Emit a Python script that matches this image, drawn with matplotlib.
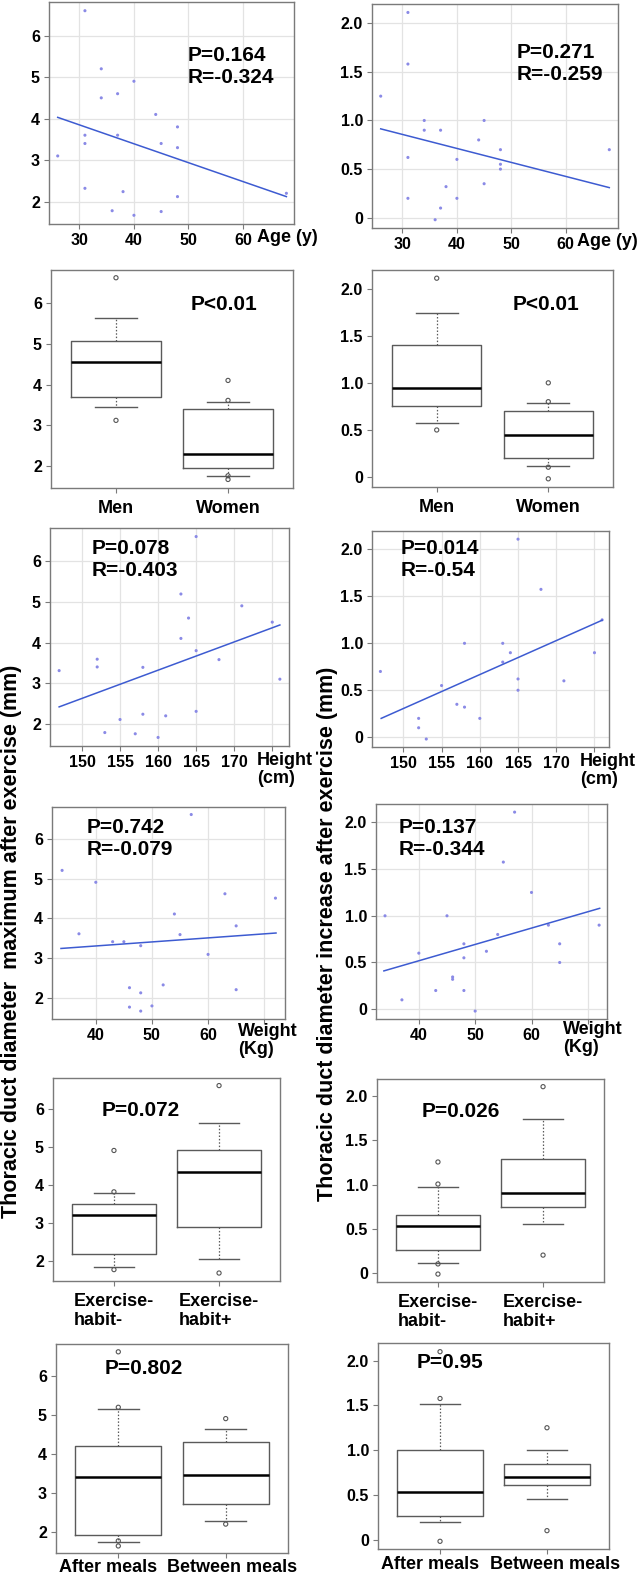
import matplotlib
matplotlib.use("Agg")
import matplotlib.pyplot as plt
import matplotlib.transforms as mtransforms

plt.rcParams['font.family'] = ['Liberation Sans', 'DejaVu Sans']
plt.rcParams['font.weight'] = 'bold'

# ---------------- data ----------------
age_max_x = [31, 34, 40, 37, 34, 44, 48, 31, 37, 31, 45, 48, 26, 31, 38, 48, 68, 36, 40, 45]
age_max_y = [6.6, 5.2, 4.9, 4.6, 4.5, 4.1, 3.8, 3.6, 3.6, 3.4, 3.4, 3.3, 3.1, 2.32, 2.24, 2.12, 2.2, 1.78, 1.67, 1.76]
age_max_fit_x = [26, 68]
age_max_fit_y = [4.03, 2.12]

age_inc_x = [31, 31, 26, 34, 45, 34, 37, 44, 48, 68, 31, 40, 48, 48, 45, 38, 31, 40, 37, 36]
age_inc_y = [2.11, 1.58, 1.25, 1.0, 1.0, 0.9, 0.9, 0.8, 0.7, 0.7, 0.62, 0.6, 0.55, 0.5, 0.35, 0.32, 0.2, 0.2, 0.1, -0.02]
age_inc_fit_x = [26, 68]
age_inc_fit_y = [0.914, 0.31]

height_max_x = [165, 163, 171, 164, 175, 163, 165, 152, 168, 152, 158, 147, 176, 165, 158, 161, 155, 153, 157, 160]
height_max_y = [6.6, 5.19, 4.9, 4.6, 4.5, 4.1, 3.8, 3.59, 3.58, 3.4, 3.39, 3.31, 3.1, 2.31, 2.24, 2.2, 2.11, 1.79, 1.76, 1.67]
height_max_fit_x = [147, 176]
height_max_fit_y = [2.42, 4.43]

height_inc_x = [165, 168, 176, 158, 163, 164, 175, 163, 147, 165, 171, 155, 165, 157, 158, 152, 160, 152, 153]
height_inc_y = [2.11, 1.575, 1.25, 1.0, 1.0, 0.9, 0.9, 0.8, 0.7, 0.62, 0.6, 0.55, 0.5, 0.35, 0.32, 0.2, 0.2, 0.1, -0.02]
height_inc_fit_x = [147.1, 176]
height_inc_fit_y = [0.20, 1.246]

weight_max_x = [57, 34, 40, 63, 72, 54, 65, 37, 55, 43, 45, 48, 60, 52, 46, 65, 48, 50, 46, 48]
weight_max_y = [6.62, 5.21, 4.91, 4.62, 4.51, 4.11, 3.81, 3.61, 3.59, 3.41, 3.41, 3.31, 3.09, 2.32, 2.25, 2.2, 2.12, 1.79, 1.76, 1.66]
weight_max_fit_x = [33.8, 72.1]
weight_max_fit_y = [3.24, 3.63]

weight_inc_x = [57, 55, 60, 34, 45, 63, 72, 54, 48, 65, 52, 40, 48, 65, 46, 46, 43, 48, 37, 50]
weight_inc_y = [2.11, 1.575, 1.25, 1.0, 1.0, 0.9, 0.9, 0.8, 0.7, 0.7, 0.62, 0.6, 0.55, 0.5, 0.345, 0.32, 0.2, 0.2, 0.1, -0.02]
weight_inc_fit_x = [33.8, 72.1]
weight_inc_fit_y = [0.41, 1.08]

# box stats: [q1, median, q3, whisker low, whisker high]
sex_labels = ['Men', 'Women']
sex_max_stats = [[3.70, 4.56, 5.06, 3.44, 5.63], [1.96, 2.29, 3.40, 1.76, 3.58]]
sex_max_out = [[6.62, 3.12], [4.10, 3.61, 1.76, 1.67]]
sex_inc_stats = [[0.75, 0.95, 1.405, 0.57, 1.74], [0.20, 0.45, 0.70, 0.113, 0.79]]
sex_inc_out = [[2.11, 0.50], [1.0, 0.80, 0.105, -0.018]]

ex_labels = ['Exercise-\nhabit-', 'Exercise-\nhabit+']
ex_max_stats = [[2.18, 3.21, 3.50, 1.82, 3.79], [2.89, 4.32, 4.90, 2.05, 5.62]]
ex_max_out = [[4.90, 3.81, 1.76], [6.61, 1.67]]
ex_inc_stats = [[0.258, 0.527, 0.66, 0.114, 0.968], [0.748, 0.90, 1.287, 0.55, 1.742]]
ex_inc_out = [[1.256, 1.006, 0.10, -0.015], [2.11, 0.20]]

meal_labels = ['After meals', 'Between meals']
meal_max_stats = [[1.93, 3.40, 4.21, 1.75, 5.14], [2.71, 3.46, 4.30, 2.28, 4.63]]
meal_max_out = [[6.61, 5.19, 1.77, 1.64], [4.90, 2.20]]
meal_inc_stats = [[0.263, 0.527, 1.0, 0.20, 1.52], [0.612, 0.70, 0.846, 0.449, 1.0]]
meal_inc_out = [[2.10, 1.577, -0.019], [1.25, 0.10]]

max_yticks = [2, 3, 4, 5, 6]
max_yticklabels = ['2', '3', '4', '5', '6']
inc_yticks = [0, 0.5, 1.0, 1.5, 2.0]
inc_yticklabels = ['0', '0.5', '1.0', '1.5', '2.0']

age_xticks = [30, 40, 50, 60]
age_xticklabels = ['30', '40', '50', '60']
height_xticks = [150, 155, 160, 165, 170, 175]
height_xticklabels = ['150', '155', '160', '165', '170', '']
weight_xticks = [40, 50, 60, 70]
weight_xticklabels = ['40', '50', '60', '']

# ---------------- figure ----------------
W, H = 641, 1577
fig = plt.figure(figsize=(W / 100, H / 100), dpi=100)
fig.patch.set_facecolor('white')

SPINE = '#7a7a7a'
TICKFS = 11.5
PFS = 15
LABFS = 13


def add_ax(l, t, r, b):
    return fig.add_axes([l / W, 1 - b / H, (r - l) / W, (b - t) / H])


def ftext(x, y, s, **kw):
    return fig.text(x / W, 1 - y / H, s, **kw)


def style(ax, yticks, yticklabels, ylim):
    for sp in ax.spines.values():
        sp.set_color(SPINE)
        sp.set_linewidth(1.0)
    ax.set_ylim(*ylim)
    ax.set_yticks(yticks)
    ax.set_yticklabels(yticklabels, fontsize=TICKFS, fontweight='bold')
    ax.tick_params(axis='both', direction='out', length=3.5, width=0.8,
                   color=SPINE, pad=3)


def scatter_panel(box, x, y, fx, fy, xlim, xticks, xticklabels, yticks, yticklabels, ylim):
    ax = add_ax(*box)
    style(ax, yticks, yticklabels, ylim)
    ax.set_xlim(*xlim)
    ax.set_xticks(xticks)
    ax.set_xticklabels(xticklabels, fontsize=TICKFS, fontweight='bold')
    ax.grid(True, color='#e3e3e3', lw=0.9)
    ax.set_axisbelow(True)
    ax.scatter(x, y, s=5, color='#8a8ae6', edgecolors='none', zorder=3)
    ax.plot(fx, fy, color='#3d5bd1', lw=1.1, zorder=4)
    return ax


def box_panel(box, stats, outs, labels, yticks, yticklabels, ylim,
              xpad=5, label_shift=(0, 0)):
    ax = add_ax(*box)
    style(ax, yticks, yticklabels, ylim)
    bst = []
    for s, lab in zip(stats, labels):
        bst.append(dict(q1=s[0], med=s[1], q3=s[2], whislo=s[3], whishi=s[4],
                        fliers=[], label=lab))
    ax.bxp(bst, positions=[1, 2], widths=0.8, showfliers=False,
           boxprops=dict(color='#5a5a5a', lw=1.0),
           medianprops=dict(color='black', lw=1.8),
           whiskerprops=dict(color='#5a5a5a', lw=0.9, ls=(0, (1.2, 1.5))),
           capprops=dict(color='#5a5a5a', lw=1.0),
           capwidths=0.38)
    for pos, o in zip([1, 2], outs):
        ax.scatter([pos] * len(o), o, s=9, facecolors='none',
                   edgecolors='#555555', linewidths=0.8, zorder=3)
    ax.set_xlim(0.42, 2.58)
    ax.set_xticks([1, 2])
    ax.set_xticklabels(labels, fontsize=LABFS, fontweight='bold')
    ax.tick_params(axis='x', pad=xpad)
    for t, dx in zip(ax.get_xticklabels(), label_shift):
        t.set_multialignment('left')
        if dx:
            off = mtransforms.ScaledTranslation(dx / 100, 0, fig.dpi_scale_trans)
            t.set_transform(t.get_transform() + off)
    return ax


MAXLIM = (1.46, 6.81)
INCLIM = (-0.105, 2.197)

# Row 1: age
scatter_panel((49, 2, 294, 224), age_max_x, age_max_y, age_max_fit_x, age_max_fit_y,
              (24.4, 69.4), age_xticks, age_xticklabels, max_yticks, max_yticklabels, MAXLIM)
scatter_panel((372, 4, 618, 228), age_inc_x, age_inc_y, age_inc_fit_x, age_inc_fit_y,
              (24.4, 69.6), age_xticks, age_xticklabels, inc_yticks, inc_yticklabels, INCLIM)
ftext(188, 46, 'P=0.164\nR=-0.324', fontsize=PFS, fontweight='bold', va='top', ha='left')
ftext(517, 43, 'P=0.271\nR=-0.259', fontsize=PFS, fontweight='bold', va='top', ha='left')
ftext(257, 238, 'Age (y)', fontsize=LABFS, fontweight='bold', va='center', ha='left')
ftext(577, 241, 'Age (y)', fontsize=LABFS, fontweight='bold', va='center', ha='left')

# Row 2: sex
box_panel((51, 270, 293, 488), sex_max_stats, sex_max_out, sex_labels,
          max_yticks, max_yticklabels, MAXLIM)
box_panel((372, 270, 613, 487), sex_inc_stats, sex_inc_out, sex_labels,
          inc_yticks, inc_yticklabels, INCLIM)
ftext(191, 295, 'P<0.01', fontsize=PFS, fontweight='bold', va='top', ha='left')
ftext(513, 295, 'P<0.01', fontsize=PFS, fontweight='bold', va='top', ha='left')

# Row 3: height
scatter_panel((50, 528, 289, 746), height_max_x, height_max_y, height_max_fit_x, height_max_fit_y,
              (145.8, 177.2), height_xticks, height_xticklabels, max_yticks, max_yticklabels, MAXLIM)
scatter_panel((372, 531, 609, 747), height_inc_x, height_inc_y, height_inc_fit_x, height_inc_fit_y,
              (145.9, 176.9), height_xticks, height_xticklabels, inc_yticks, inc_yticklabels, INCLIM)
ftext(92, 539, 'P=0.078\nR=-0.403', fontsize=PFS, fontweight='bold', va='top', ha='left')
ftext(401, 539, 'P=0.014\nR=-0.54', fontsize=PFS, fontweight='bold', va='top', ha='left')
ftext(257, 752, 'Height\n(cm)', fontsize=LABFS, fontweight='bold', va='top', ha='left',
      linespacing=1.05)
ftext(580, 753, 'Height\n(cm)', fontsize=LABFS, fontweight='bold', va='top', ha='left',
      linespacing=1.05)

# Row 4: weight
scatter_panel((52, 807, 285, 1019), weight_max_x, weight_max_y, weight_max_fit_x, weight_max_fit_y,
              (32.2, 73.7), weight_xticks, weight_xticklabels, max_yticks, max_yticklabels, MAXLIM)
scatter_panel((376, 804, 607, 1019), weight_inc_x, weight_inc_y, weight_inc_fit_x, weight_inc_fit_y,
              (32.4, 73.4), weight_xticks, weight_xticklabels, inc_yticks, inc_yticklabels, INCLIM)
ftext(87, 818, 'P=0.742\nR=-0.079', fontsize=PFS, fontweight='bold', va='top', ha='left')
ftext(399, 818, 'P=0.137\nR=-0.344', fontsize=PFS, fontweight='bold', va='top', ha='left')
ftext(238, 1023, 'Weight\n(Kg)', fontsize=LABFS, fontweight='bold', va='top', ha='left',
      linespacing=1.1)
ftext(563, 1021, 'Weight\n(Kg)', fontsize=LABFS, fontweight='bold', va='top', ha='left',
      linespacing=1.1)

# Row 5: exercise habit
box_panel((53, 1078, 280, 1281), ex_max_stats, ex_max_out, ex_labels,
          max_yticks, max_yticklabels, MAXLIM)
box_panel((377, 1079, 604, 1282), ex_inc_stats, ex_inc_out, ex_labels,
          inc_yticks, inc_yticklabels, INCLIM)
ftext(102, 1101, 'P=0.072', fontsize=PFS, fontweight='bold', va='top', ha='left')
ftext(422, 1102, 'P=0.026', fontsize=PFS, fontweight='bold', va='top', ha='left')

# Row 6: meals
box_panel((56, 1344, 288, 1553), meal_max_stats, meal_max_out, meal_labels,
          max_yticks, max_yticklabels, MAXLIM, xpad=0.5, label_shift=(-10, 6))
box_panel((378, 1343, 609, 1549), meal_inc_stats, meal_inc_out, meal_labels,
          inc_yticks, inc_yticklabels, INCLIM, xpad=1.5, label_shift=(-10, 8))
ftext(105, 1359, 'P=0.802', fontsize=PFS, fontweight='bold', va='top', ha='left')
ftext(417, 1353, 'P=0.95', fontsize=PFS, fontweight='bold', va='top', ha='left')

# shared y labels
ftext(12, 941, 'Thoracic duct diameter  maximum after exercise (mm)', fontsize=15.5,
      fontweight='bold', rotation=90, va='center', ha='center')
ftext(328, 934, 'Thoracic duct diameter increase after exercise (mm)', fontsize=15.5,
      fontweight='bold', rotation=90, va='center', ha='center')

fig.savefig('out.png', dpi=100, facecolor='white')
